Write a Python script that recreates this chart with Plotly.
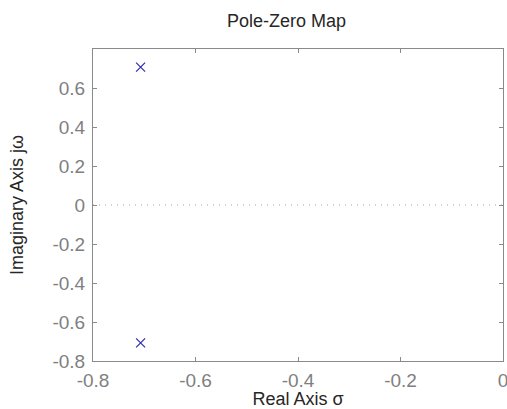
import numpy as np
import plotly.graph_objects as go

# Poles of the second-order system (no zeros)
pole_real = [-0.7071, -0.7071]
pole_imag = [0.7071, -0.7071]

x_ticks = [-0.8, -0.6, -0.4, -0.2, 0]
x_tick_text = ["-0.8", "-0.6", "-0.4", "-0.2", "0"]
y_ticks = [-0.8, -0.6, -0.4, -0.2, 0, 0.2, 0.4, 0.6]
y_tick_text = ["-0.8", "-0.6", "-0.4", "-0.2", "0", "0.2", "0.4", "0.6"]

FONT = "Liberation Sans, Arial, Helvetica, sans-serif"
AX_GRAY = "#8a8a8a"
TXT_GRAY = "#7f7f7f"
LABEL_COLOR = "#262626"

fig = go.Figure()

# dotted reference line along the real axis
fig.add_trace(go.Scatter(
    x=[-0.8, 0], y=[0, 0], mode="lines",
    line=dict(color="#a0a0a0", width=1, dash="1px,5px"),
    hoverinfo="skip", showlegend=False,
))

fig.add_trace(go.Scatter(
    x=pole_real, y=pole_imag, mode="markers",
    marker=dict(symbol="x-thin", size=9, line=dict(color="#2e2eb0", width=1.2)),
    showlegend=False,
))

axis_common = dict(
    showline=True, linecolor=AX_GRAY, linewidth=1, mirror="ticks",
    ticks="inside", ticklen=4, tickcolor=AX_GRAY, tickwidth=1,
    showgrid=False, zeroline=False, ticklabeloverflow="allow",
    automargin=False,
    tickfont=dict(family=FONT, size=19, color=TXT_GRAY),
)

fig.update_layout(
    template="none",
    width=507, height=409,
    margin=dict(l=93, r=4, t=49, b=48),
    paper_bgcolor="white", plot_bgcolor="white",
    title=dict(text="Pole-Zero Map", x=0.565, xanchor="center", y=0.95, yanchor="middle",
               font=dict(family=FONT, size=18, color=LABEL_COLOR)),
    xaxis=dict(range=[-0.8, 0], tickvals=x_ticks, ticktext=x_tick_text,
               ticklabelstandoff=2,
               title=dict(text="Real Axis σ", standoff=2,
                          font=dict(family=FONT, size=18, color=LABEL_COLOR)),
               **axis_common),
    yaxis=dict(range=[-0.8, 0.8], tickvals=y_ticks, ticktext=y_tick_text,
               ticklabelstandoff=3,
               title=dict(text="Imaginary Axis jω", standoff=24,
                          font=dict(family=FONT, size=18, color=LABEL_COLOR)),
               **axis_common),
)

fig.write_html("out.html")
